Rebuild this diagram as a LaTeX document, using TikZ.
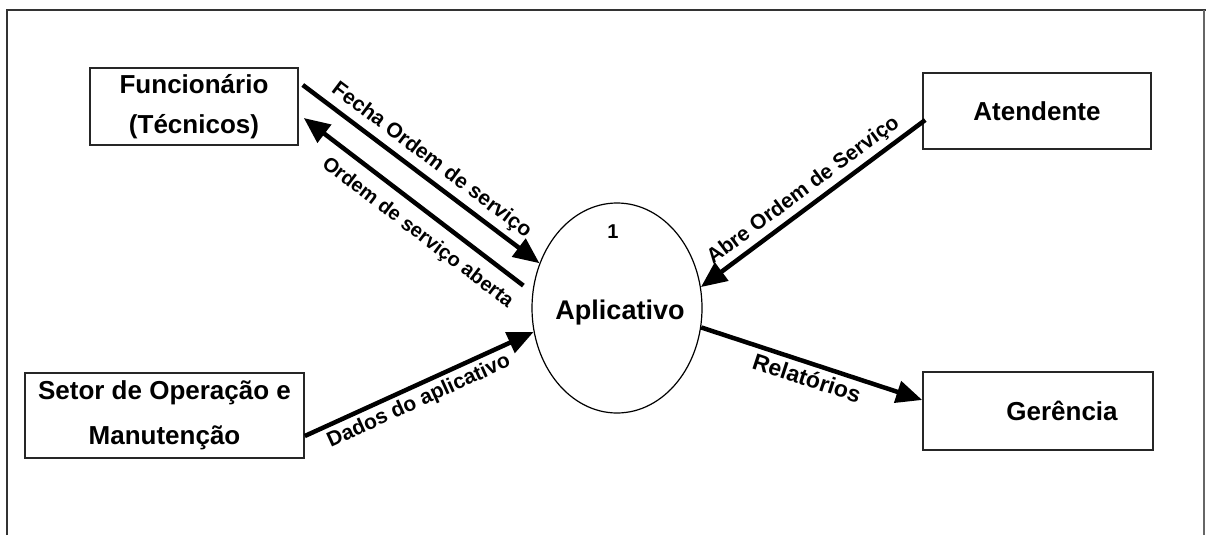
\documentclass[tikz,border=0pt]{standalone}
\usepackage{fontspec}
\setmainfont{Liberation Sans}
\usetikzlibrary{arrows.meta,shapes.geometric}
\begin{document}
\begin{tikzpicture}[x=1pt,y=-1pt,
  entity/.style={draw=black!85, line width=1.6pt, rectangle, inner sep=0pt,
    font=\bfseries\fontsize{26}{40}\selectfont, align=center},
  process/.style={draw=black, line width=1.2pt, ellipse, inner sep=0pt,
    minimum width=170pt, minimum height=210pt},
  flow/.style={draw=black, line width=4.5pt, -{Triangle[length=26pt,width=22pt]}},
  flowlabel/.style={font=\bfseries\fontsize{21}{24}\selectfont, sloped, inner sep=3pt}
]
\useasboundingbox (0,0) rectangle (1206,535);

% frame
\draw[line width=2pt, black!80] (7,535) -- (7,10) -- (1206,10);
\draw[line width=1.5pt, black!60] (1204,10) -- (1204,535);

% external entities
\node[entity, minimum width=208pt, minimum height=77pt] (func) at (194,106.5)
  {Funcionário\\(Técnicos)};
\node[entity, minimum width=228pt, minimum height=76pt] (aten) at (1037,111)
  {Atendente};
\node[entity, minimum width=279pt, minimum height=85pt] (setor) at (164.5,415.5)
  {Setor de Operação e\\[5pt]Manutenção};
\node[entity, minimum width=230pt, minimum height=78pt] (ger) at (1038,411)
  {\hspace*{48pt}Gerência};

% process
\node[process] (app) at (617,308) {};
\node[font=\bfseries\fontsize{20}{22}\selectfont] (pid) at (613,232) {1};
\node[font=\bfseries\fontsize{27}{30}\selectfont] (pname) at (620,313) {Aplicativo};

% data flows
\draw[flow] ([xshift=4pt,yshift=21.5pt]func.east) -- (app.150.8)
  node[flowlabel, pos=0.5, above=2pt] (l1) {Fecha Ordem de serviço};
\draw[flow] ([xshift=-10pt]app.165.9) -- ([xshift=5pt,yshift=-11.5pt]func.east)
  node[flowlabel, pos=0.42, below=8pt, font=\bfseries\fontsize{20}{24}\selectfont] (l2) {Ordem de serviço aberta};
\draw[flow] ([xshift=3pt,yshift=-9pt]aten.west) -- (app.14.7)
  node[flowlabel, pos=0.5, above=1pt] (l3) {Abre Ordem de Serviço};
\draw[flow] ([yshift=-20.5pt]setor.east) -- (app.196.6)
  node[flowlabel, pos=0.47, below=1pt] (l4) {Dados do aplicativo};
\draw[flow] (app.-13.5) -- ([yshift=11pt]ger.west)
  node[flowlabel, pos=0.5, below=1pt, font=\bfseries\fontsize{23}{26}\selectfont] (l5) {Relatórios};
\end{tikzpicture}
\end{document}
